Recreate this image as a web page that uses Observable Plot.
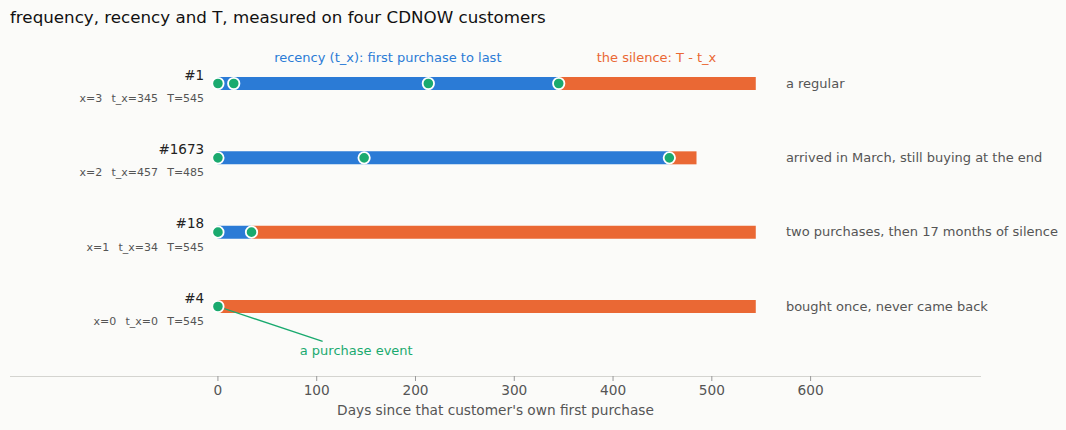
<!DOCTYPE html>
<html>
<head>
<meta charset="utf-8">
<script src="https://cdn.jsdelivr.net/npm/d3@7"></script>
<script src="https://cdn.jsdelivr.net/npm/@observablehq/plot@0.6"></script>
<style>
  body { margin: 0; background: #fbfbf9; font-family: "DejaVu Sans", sans-serif; }
  #title { position: absolute; left: 10px; top: 7px; font-size: 16.7px; color: #111; }
  #chart { position: absolute; left: 0; top: 34px; }
</style>
</head>
<body>
<div id="title">frequency, recency and T, measured on four CDNOW customers</div>
<div id="chart"></div>
<script>
// Data
const customers = ["#1", "#1673", "#18", "#4"];
const frequency = [3, 2, 1, 0];
const recency = [345, 457, 34, 0];
const ages = [545, 485, 545, 545];
const purchases = [[0, 16, 213, 345], [0, 148, 457], [0, 34], [0]];
const notes = ["a regular", "arrived in March, still buying at the end", "two purchases, then 17 months of silence", "bought once, never came back"];
const xTicks = [0, 100, 200, 300, 400, 500, 600];

const BLUE = "#2b7bd6", ORANGE = "#ea6834", GREEN = "#1aaa6f";

const gap = "\u00a0\u00a0\u2009";
const rows = customers.map((c, i) => ({
  i, id: c, x: frequency[i], tx: recency[i], T: ages[i], note: notes[i],
  sub: `x=${frequency[i]}${gap}t_x=${recency[i]}${gap}T=${ages[i]}`
}));
const events = rows.flatMap(r => purchases[r.i].map(d => ({i: r.i, d})));

const chart = Plot.plot({
  width: 1066,
  height: 396,
  marginLeft: 10,
  marginRight: 86,
  marginTop: 0,
  marginBottom: 54,
  style: {background: "transparent", fontFamily: "DejaVu Sans, sans-serif"},
  x: {domain: [-210, 772], ticks: xTicks, label: "Days since that customer's own first purchase"},
  y: {type: "linear", domain: [0, 3], range: [49, 272], axis: null},
  marks: [
    Plot.frame({anchor: "bottom", stroke: "#d4d4d0"}),
    Plot.axisX({ticks: xTicks, tickSize: 5, tickPadding: 4, fontSize: 13.7, color: "#555", stroke: "#999",
      label: "Days since that customer's own first purchase", labelAnchor: "center", labelArrow: "none", labelOffset: 38}),
    Plot.ruleY(rows.filter(r => r.T > r.tx), {y: "i", x1: "tx", x2: "T", stroke: ORANGE, strokeWidth: 13}),
    Plot.ruleY(rows.filter(r => r.tx > 0), {y: "i", x1: 0, x2: "tx", stroke: BLUE, strokeWidth: 13}),
    Plot.link([{x1: 0, y1: 3, x2: 106, y2: 3.47}], {x1: "x1", y1: "y1", x2: "x2", y2: "y2", stroke: GREEN, strokeWidth: 1.3}),
    Plot.dot(events, {x: "d", y: "i", r: 5.7, fill: GREEN, stroke: "white", strokeWidth: 1.8}),
    Plot.text(rows, {x: -14, y: "i", dy: -8, text: "id", textAnchor: "end", fontSize: 13.5, fill: "#222"}),
    Plot.text(rows, {x: -14, y: "i", dy: 15, text: "sub", textAnchor: "end", fontSize: 11, fill: "#555"}),
    Plot.text(rows, {x: 575, y: "i", text: "note", textAnchor: "start", fontSize: 13, fill: "#555"}),
    Plot.text([{x: 172, y: -0.35, t: "recency (t_x): first purchase to last"}], {x: "x", y: "y", text: "t", fill: BLUE, fontSize: 13}),
    Plot.text([{x: 444, y: -0.35, t: "the silence: T - t_x"}], {x: "x", y: "y", text: "t", fill: ORANGE, fontSize: 13}),
    Plot.text([{x: 140, y: 3.6, t: "a purchase event"}], {x: "x", y: "y", text: "t", fill: GREEN, fontSize: 13})
  ]
});
document.getElementById("chart").appendChild(chart);
</script>
</body>
</html>
